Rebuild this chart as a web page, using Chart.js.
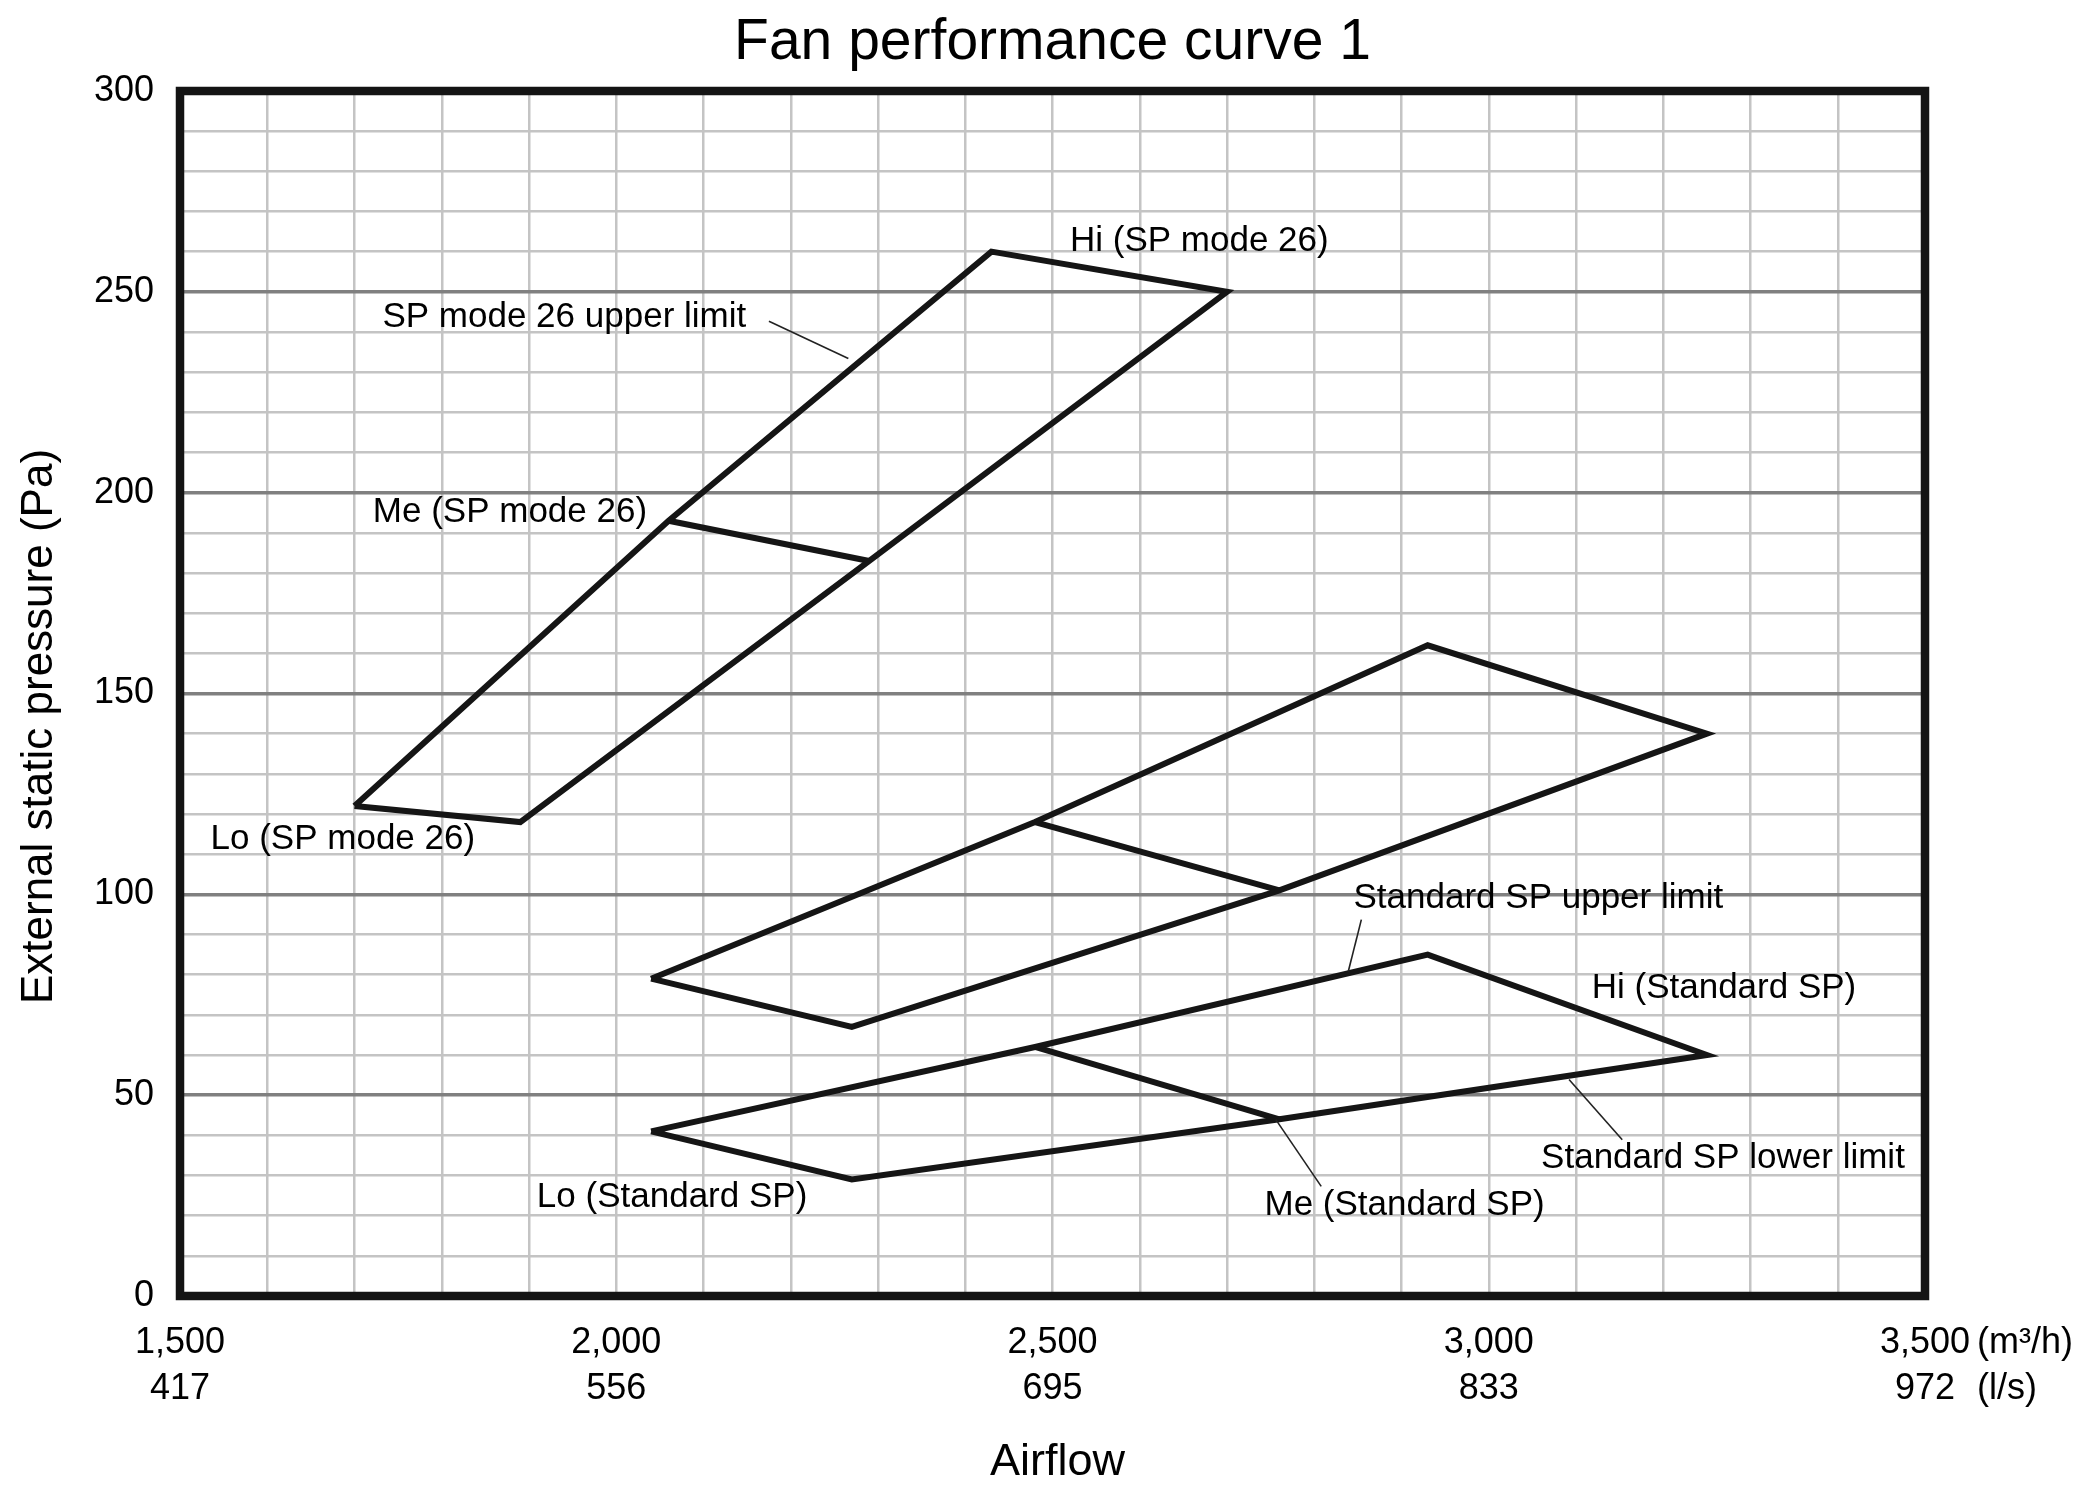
<!DOCTYPE html>
<html>
<head>
<meta charset="utf-8">
<script src="https://cdn.jsdelivr.net/npm/chart.js@4.4.1/dist/chart.umd.min.js"></script>
<style>
  html, body { margin: 0; padding: 0; background: #ffffff; }
  #wrap { width: 2091px; height: 1491px; }
</style>
</head>
<body>
<div id="wrap"><canvas id="c" width="2091" height="1491"></canvas></div>
<script>
// ---------- DATA ----------
const TITLE = 'Fan performance curve 1';
const X_TITLE = 'Airflow';
const Y_TITLE = 'External static pressure (Pa)';
const X_MIN = 1500, X_MAX = 3500, X_GRID_STEP = 100, X_LABEL_STEP = 500;
const Y_MIN = 0, Y_MAX = 300, Y_GRID_STEP = 10, Y_LABEL_STEP = 50;
const X_TICK_M3H = ['1,500', '2,000', '2,500', '3,000', '3,500'];
const X_TICK_LS  = ['417', '556', '695', '833', '972'];
const X_UNIT_1 = '(m\u00B3/h)';
const X_UNIT_2 = '(l/s)';

// SP mode 26 outline: Lo, Me(upper), Hi, Hi, Me(lower), Lo, back to Lo
const sp26X = [1700, 2060, 2430, 2700, 2290, 1890, 1700];
const sp26Y = [122, 193, 260, 250, 183, 118, 122];
const sp26MeX = [2060, 2290];
const sp26MeY = [193, 183];

// middle outline
const midX = [2040, 2480, 2930, 3250, 2760, 2270, 2040];
const midY = [79, 118, 162, 140, 101, 67, 79];
const midMeX = [2480, 2760];
const midMeY = [118, 101];

// Standard SP outline
const stdX = [2040, 2480, 2930, 3250, 2760, 2270, 2040];
const stdY = [41, 62, 85, 60, 44, 29, 41];
const stdMeX = [2480, 2760];
const stdMeY = [62, 44];

// annotation labels (left edge x, vertical centre y, in data units)
const labelText = ['Hi (SP mode 26)', 'SP mode 26 upper limit', 'Me (SP mode 26)', 'Lo (SP mode 26)',
                   'Standard SP upper limit', 'Hi (Standard SP)', 'Standard SP lower limit',
                   'Me (Standard SP)', 'Lo (Standard SP)'];
const labelX = [2520, 1732, 1721, 1535, 2845, 3118, 3060, 2743, 1909];
const labelY = [262.6, 243.7, 195.1, 113.7, 99.1, 76.5, 34.2, 22.6, 24.6];

// leader lines (from x1,y1 to x2,y2 in data units)
const leaderX1 = [2175, 2854, 3092, 2756];
const leaderY1 = [242.7, 93.7, 53.9, 43.9];
const leaderX2 = [2266, 2839, 3153, 2808];
const leaderY2 = [233.4, 80.8, 38.9, 27.3];

// ---------- BUILD ----------
const FONT = '"Liberation Sans", Arial, Helvetica, sans-serif';
const LINE = '#151515';
const toPts = (xs, ys) => xs.map((x, i) => ({ x: x, y: ys[i] }));
function ds(xs, ys) {
  return {
    data: toPts(xs, ys), showLine: true, borderColor: LINE, backgroundColor: LINE,
    borderWidth: 6, pointRadius: 0, pointHoverRadius: 0, fill: false, tension: 0,
    borderJoinStyle: 'miter', borderCapStyle: 'butt'
  };
}

const decor = {
  id: 'decor',
  afterDraw(chart) {
    const ctx = chart.ctx, a = chart.chartArea, xs = chart.scales.x, ys = chart.scales.y;
    ctx.save();
    // frame
    ctx.strokeStyle = '#141414';
    ctx.lineWidth = 8.5;
    ctx.strokeRect(a.left, a.top, a.right - a.left, a.bottom - a.top);
    // leader lines
    ctx.strokeStyle = '#222222';
    ctx.lineWidth = 1.6;
    for (let i = 0; i < leaderX1.length; i++) {
      ctx.beginPath();
      ctx.moveTo(xs.getPixelForValue(leaderX1[i]), ys.getPixelForValue(leaderY1[i]));
      ctx.lineTo(xs.getPixelForValue(leaderX2[i]), ys.getPixelForValue(leaderY2[i]));
      ctx.stroke();
    }
    // annotation labels
    ctx.fillStyle = '#000000';
    ctx.font = '35px ' + FONT;
    ctx.textAlign = 'left';
    ctx.textBaseline = 'middle';
    for (let i = 0; i < labelText.length; i++) {
      ctx.fillText(labelText[i], xs.getPixelForValue(labelX[i]), ys.getPixelForValue(labelY[i]));
    }
    // title
    ctx.textAlign = 'center';
    ctx.font = '57px ' + FONT;
    ctx.fillText(TITLE, (a.left + a.right) / 2, 43);
    // x title
    ctx.font = '45px ' + FONT;
    ctx.fillText(X_TITLE, (a.left + a.right) / 2 + 5, 1463);
    // y title
    ctx.font = '44px ' + FONT;
    ctx.save();
    ctx.translate(40, (a.top + a.bottom) / 2 + 33);
    ctx.rotate(-Math.PI / 2);
    ctx.fillText(Y_TITLE, 0, 0);
    ctx.restore();
    // x units
    ctx.font = '36px ' + FONT;
    ctx.textAlign = 'left';
    const px = xs.getPixelForValue(X_MAX);
    ctx.fillText(X_UNIT_1, px + 52, 1343);
    ctx.fillText(X_UNIT_2, px + 52, 1389);
    ctx.restore();
  }
};

new Chart(document.getElementById('c'), {
  type: 'scatter',
  data: {
    datasets: [
      ds(sp26X, sp26Y), ds(sp26MeX, sp26MeY),
      ds(midX, midY), ds(midMeX, midMeY),
      ds(stdX, stdY), ds(stdMeX, stdMeY)
    ]
  },
  options: {
    responsive: false,
    animation: false,
    devicePixelRatio: 1,
    layout: { padding: { top: 91, right: 166, left: 0, bottom: 0 } },
    plugins: { legend: { display: false }, tooltip: { enabled: false }, title: { display: false } },
    scales: {
      x: {
        type: 'linear', min: X_MIN, max: X_MAX,
        border: { display: false },
        grid: { color: '#c4c4c4', lineWidth: 2.5, drawTicks: false },
        ticks: {
          stepSize: X_GRID_STEP, autoSkip: false, maxRotation: 0, padding: 24,
          color: '#000000', font: { family: FONT, size: 36, lineHeight: 1.28 },
          callback: (v) => {
            if ((v - X_MIN) % X_LABEL_STEP !== 0) return '';
            const i = (v - X_MIN) / X_LABEL_STEP;
            return [X_TICK_M3H[i], X_TICK_LS[i]];
          }
        },
        afterFit: (s) => { s.height = 195; }
      },
      y: {
        type: 'linear', min: Y_MIN, max: Y_MAX,
        border: { display: false },
        grid: {
          drawTicks: false,
          color: (c) => (c.tick && c.tick.value % Y_LABEL_STEP === 0) ? '#808080' : '#c4c4c4',
          lineWidth: (c) => (c.tick && c.tick.value % Y_LABEL_STEP === 0) ? 3.5 : 2.5
        },
        ticks: {
          stepSize: Y_GRID_STEP, autoSkip: false, padding: 26,
          color: '#000000', font: { family: FONT, size: 36 },
          callback: (v) => (v % Y_LABEL_STEP === 0 ? String(v) : '')
        },
        afterFit: (s) => { s.width = 180; }
      }
    }
  },
  plugins: [decor]
});
</script>
</body>
</html>
